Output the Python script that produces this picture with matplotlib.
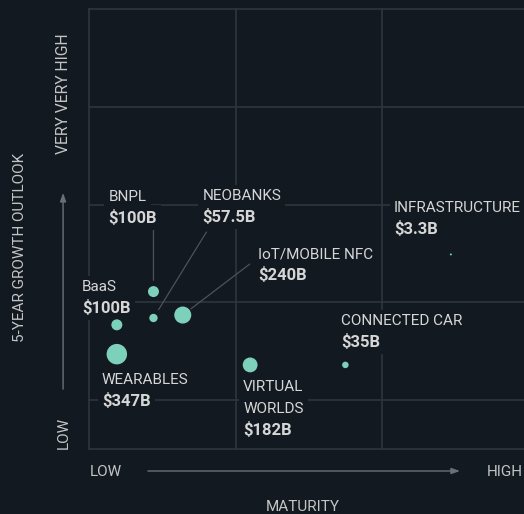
import matplotlib
matplotlib.use("Agg")
import matplotlib.pyplot as plt

# bubble data
names = ["BNPL", "NEOBANKS", "IoT/MOBILE NFC", "BaaS", "WEARABLES",
         "VIRTUAL\nWORLDS", "CONNECTED CAR", "INFRASTRUCTURE"]
market_size = [100, 57.5, 240, 100, 347, 182, 35, 3.3]  # $B
size_labels = ["$100B", "$57.5B", "$240B", "$100B", "$347B", "$182B", "$35B", "$3.3B"]
maturity = [0.44, 0.44, 0.64, 0.19, 0.19, 1.10, 1.75, 2.47]
growth = [1.11, 0.84, 0.87, 0.77, 0.47, 0.36, 0.36, 1.49]

# label placement: offset (pixels) of first baseline from the bubble
label_offsets = [(-45, 91), (49, 118), (75, 57), (-35, 34), (-15, -30),
                 (-7, -26), (-4, 40), (-57, 42)]
# leader lines: start offset (pixels) from bubble, gap at bubble end (points)
leaders = {0: ((0, 62), 8), 1: ((53, 86), 7), 2: ((67, 51), 7.4)}

BG = "#121921"
GRID = "#30353d"
LEAD = "#4c525a"
TXT = "#d6d6d6"
AXTXT = "#c4c4c4"
BUBBLE = "#7dd0ba"

plt.rcParams["font.family"] = ["Roboto", "DejaVu Sans"]

fig = plt.figure(figsize=(5.24, 5.14), dpi=100, facecolor=BG)
ax = fig.add_axes([89 / 524, 65 / 514, 439.5 / 524, 440 / 514])
ax.set_facecolor(BG)
ax.set_xlim(0, 3)
ax.set_ylim(-0.5, 4)
ax.axis("off")

for yv in [-0.5, 0, 1, 2, 3, 4]:
    ax.axhline(yv, color=GRID, lw=1.2, zorder=0, clip_on=False)
for xv in [0, 1, 2, 3]:
    ax.axvline(xv, color=GRID, lw=1.2, zorder=0, clip_on=False)

ax.scatter(maturity, growth, s=[0.627 * v for v in market_size],
           color=BUBBLE, edgecolors="none", zorder=4)

box = dict(facecolor=BG, edgecolor="none", pad=3)
step = 22
for i, name in enumerate(names):
    dx, dy = label_offsets[i]
    lines = name.split("\n")
    for j, line in enumerate(lines):
        ax.annotate(line, (maturity[i], growth[i]), xytext=(dx, dy - j * step),
                    textcoords="offset pixels", ha="left", va="baseline",
                    fontsize=11, color=TXT, bbox=box, zorder=3)
    ax.annotate(size_labels[i], (maturity[i], growth[i]),
                xytext=(dx, dy - len(lines) * step), textcoords="offset pixels",
                ha="left", va="baseline", fontsize=12, fontweight="bold",
                color=TXT, bbox=box, zorder=3)

for i, (start, gap) in leaders.items():
    ax.annotate("", (maturity[i], growth[i]), xytext=start,
                textcoords="offset pixels",
                arrowprops=dict(arrowstyle="-", color=LEAD, lw=0.9,
                                shrinkA=0, shrinkB=gap), zorder=2)

# axis titles and arrows
ax.text(-0.157, 0.457, "5-YEAR GROWTH OUTLOOK", transform=ax.transAxes,
        rotation=90, ha="center", va="center", fontsize=11, color=AXTXT)
ax.text(-0.057, 0.945, "VERY VERY HIGH", transform=ax.transAxes,
        rotation=90, ha="center", va="top", fontsize=11.3, color=AXTXT)
ax.text(-0.057, 0.0, "LOW", transform=ax.transAxes,
        rotation=90, ha="center", va="bottom", fontsize=11, color=AXTXT)
ax.annotate("", xy=(-0.059, 0.582), xytext=(-0.059, 0.136),
            xycoords="axes fraction", textcoords="axes fraction",
            arrowprops=dict(arrowstyle="-|>,head_length=0.5,head_width=0.18",
                            color="#6b7078", lw=1, shrinkA=0, shrinkB=0))

ax.text(0.002, -0.052, "LOW", transform=ax.transAxes,
        ha="left", va="center", fontsize=11, color=AXTXT)
ax.text(0.906, -0.052, "HIGH", transform=ax.transAxes,
        ha="left", va="center", fontsize=11, color=AXTXT)
ax.annotate("", xy=(0.844, -0.05), xytext=(0.134, -0.05),
            xycoords="axes fraction", textcoords="axes fraction",
            arrowprops=dict(arrowstyle="-|>,head_length=0.5,head_width=0.18",
                            color="#6b7078", lw=1, shrinkA=0, shrinkB=0))
ax.text(0.487, -0.132, "MATURITY", transform=ax.transAxes,
        ha="center", va="center", fontsize=11, color=AXTXT)

fig.savefig("out.png", dpi=100, facecolor=BG)
